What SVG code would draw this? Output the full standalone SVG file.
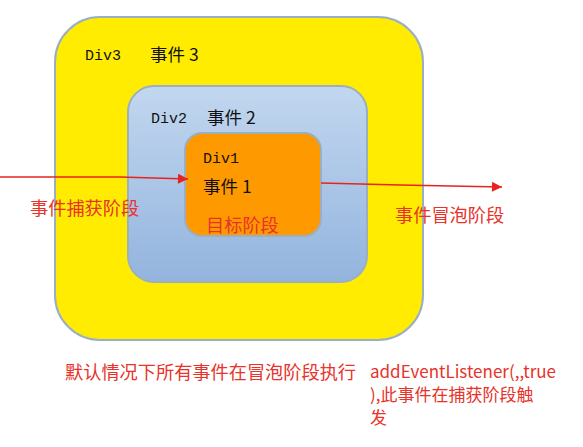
<svg xmlns="http://www.w3.org/2000/svg" width="583" height="447" viewBox="0 0 583 447">
<defs>
<linearGradient id="blue" x1="0" y1="0" x2="0" y2="1">
<stop offset="0" stop-color="#c2d7ef"/>
<stop offset="1" stop-color="#93b4de"/>
</linearGradient>
<marker id="ah" viewBox="0 0 10 10" refX="10" refY="5" markerWidth="12" markerHeight="10" markerUnits="userSpaceOnUse" orient="auto">
<path d="M0,0 L10,5 L0,10 Z" fill="#e8231d"/>
</marker>
<style>
.box{stroke:#9aafc4;stroke-width:2}
.mono{font-family:"Liberation Mono","DejaVu Sans Mono",monospace;font-size:15px;fill:#111}
.cn{font-family:"Noto Sans CJK SC","Noto Sans",sans-serif;font-size:17.5px;fill:#111}
.red{font-family:"Noto Sans CJK SC","Noto Sans",sans-serif;font-size:17px;fill:#e8322a}
.big{font-size:18.2px}
.conn{fill:none;stroke:#e8231d;stroke-width:1.3}
</style>
</defs>
<rect width="583" height="447" fill="#fff"/>
<g id="div3">
<rect class="box" x="55" y="17" width="368" height="323" rx="45" fill="#ffec00"/>
<text class="mono" x="85" y="60">Div3</text>
<text class="cn" x="150" y="61">事件 3</text>
</g>
<g id="div2">
<rect class="box" x="128" y="86" width="239" height="196" rx="26" fill="url(#blue)"/>
<text class="mono" x="151" y="123">Div2</text>
<text class="cn" x="207" y="124">事件 2</text>
</g>
<g id="div1">
<rect class="box" x="185" y="133" width="136" height="103" rx="17" fill="#ff9900"/>
<text class="mono" x="203" y="163">Div1</text>
<text class="cn" x="203" y="193">事件 1</text>
<text class="red big" x="206" y="232">目标阶段</text>
</g>
<g id="connectors">
<polyline class="conn" points="0,177 120,177 188,179" marker-end="url(#ah)"/>
<polyline class="conn" points="321,183 400,185 502,187" marker-end="url(#ah)"/>
</g>
<g id="labels">
<text class="red big" x="30" y="215">事件捕获阶段</text>
<text class="red big" x="395" y="222">事件冒泡阶段</text>
<text class="red big" x="65" y="379">默认情况下所有事件在冒泡阶段执行</text>
<text class="red" x="370" y="378">addEventListener(,,true</text>
<text class="red" x="370" y="401">),此事件在捕获阶段触</text>
<text class="red" x="370" y="424">发</text>
</g>
</svg>
